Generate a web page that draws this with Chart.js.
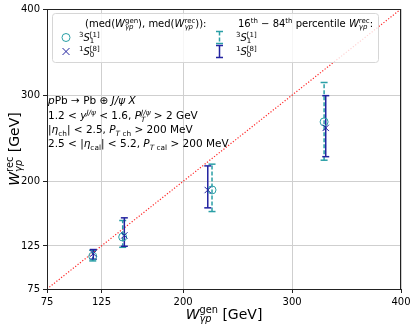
<!DOCTYPE html>
<html>
<head>
<meta charset="utf-8">
<script src="https://cdn.jsdelivr.net/npm/chart.js@4.4.1/dist/chart.umd.min.js"></script>
<style>
  body { margin: 0; background: #fff; }
  canvas { display: block; }
</style>
</head>
<body>
<canvas id="chart" width="416" height="327" style="width:416px;height:327px"></canvas>
<script>
const xTicks = [75, 125, 200, 300, 400];
const yTicks = [75, 125, 200, 300, 400];
const diagX = [75, 400];
const diagY = [75, 400];

// 3S1[1]: medians and 16-84 percentile band of W_rec
const s1Gen = [117, 144.5, 226.5, 329.4];
const s1Rec = [113, 135.3, 190, 269];
const s1Lo = [107.6, 123.4, 164.9, 224.5];
const s1Hi = [120, 154.5, 219.9, 314.7];

// 1S0[8]
const s0Gen = [117.5, 146, 222.6, 330.9];
const s0Rec = [116.1, 137.2, 189.9, 262];
const s0Lo = [109.6, 124.6, 169.2, 228.6];
const s0Hi = [120.8, 157.6, 217.9, 299.4];

const teal = '#2a9fa6';
const navy = '#2323a0';
const FONT = '"DejaVu Sans"';

function bars(xs, lo, hi) {
  return xs.flatMap((x, i) => [{x: x, y: lo[i]}, {x: x, y: hi[i]}, {x: x, y: null}]);
}

// draw text with super/subscripts; s.p: 'u' sup, 'd' sub; s.k: stack next seg on top
function rich(ctx, segs, x, y, size, align) {
  let cx = 0, stack = null;
  const ops = [];
  for (const s of segs) {
    const sz = s.p ? size * 0.7 : size;
    const font = (s.i ? 'italic ' : '') + sz + 'px ' + FONT;
    ctx.font = font;
    const w = ctx.measureText(s.t).width;
    const dy = s.p === 'u' ? -size * 0.42 : s.p === 'd' ? size * 0.24 : 0;
    if (stack) {
      ops.push({font, t: s.t, x: stack.x, dy});
      cx = stack.x + Math.max(stack.w, w);
      stack = null;
    } else {
      ops.push({font, t: s.t, x: cx, dy});
      if (s.k) stack = {x: cx, w: w}; else cx += w;
    }
  }
  const off = align === 'center' ? -cx / 2 : 0;
  ctx.textAlign = 'left';
  ctx.textBaseline = 'alphabetic';
  ops.forEach(o => { ctx.font = o.font; ctx.fillText(o.t, x + off + o.x, y + o.dy); });
  return cx;
}

const extras = {
  id: 'extras',
  afterDraw(chart) {
    const ctx = chart.ctx;
    const a = chart.chartArea;
    ctx.save();
    // frame
    ctx.strokeStyle = '#222';
    ctx.lineWidth = 1;
    ctx.strokeRect(a.left + 0.5, a.top + 0.5, a.right - a.left - 1, a.bottom - a.top);

    // legend box
    const lx = 52, ly = 13, lw = 326, lh = 49;
    ctx.beginPath();
    ctx.roundRect(lx + 0.5, ly + 0.5, lw, lh, 3);
    ctx.fillStyle = 'rgba(255,255,255,0.8)';
    ctx.fill();
    ctx.strokeStyle = '#d6d6d6';
    ctx.stroke();

    ctx.fillStyle = '#000';
    rich(ctx, [
      {t: '(med('}, {t: 'W', i: 1}, {t: 'gen', p: 'u', k: 1}, {t: 'γp', p: 'd', i: 1},
      {t: '), med('}, {t: 'W', i: 1}, {t: 'rec', p: 'u', k: 1}, {t: 'γp', p: 'd', i: 1},
      {t: ')):'}
    ], 85, 27, 10);
    rich(ctx, [
      {t: '16'}, {t: 'th', p: 'u'}, {t: ' − 84'}, {t: 'th', p: 'u'}, {t: ' percentile '},
      {t: 'W', i: 1}, {t: 'rec', p: 'u', k: 1}, {t: 'γp', p: 'd', i: 1}, {t: ':'}
    ], 238, 27, 10);
    const lab1 = [{t: '3', p: 'u'}, {t: 'S', i: 1}, {t: '[1]', p: 'u', k: 1}, {t: '1', p: 'd'}];
    const lab0 = [{t: '1', p: 'u'}, {t: 'S', i: 1}, {t: '[8]', p: 'u', k: 1}, {t: '0', p: 'd'}];
    rich(ctx, lab1, 79, 41, 10);
    rich(ctx, lab0, 79, 55, 10);
    rich(ctx, lab1, 236, 41, 10);
    rich(ctx, lab0, 236, 55, 10);

    // legend markers
    ctx.lineWidth = 1;
    ctx.strokeStyle = teal;
    ctx.beginPath();
    ctx.arc(66, 37.5, 4, 0, Math.PI * 2);
    ctx.stroke();
    ctx.strokeStyle = navy;
    ctx.beginPath();
    ctx.moveTo(62.5, 48); ctx.lineTo(69.5, 55);
    ctx.moveTo(69.5, 48); ctx.lineTo(62.5, 55);
    ctx.stroke();
    function ebar(x, y, col, dash) {
      ctx.strokeStyle = col;
      ctx.lineWidth = 1.5;
      ctx.setLineDash(dash);
      ctx.beginPath(); ctx.moveTo(x, y - 6); ctx.lineTo(x, y + 6); ctx.stroke();
      ctx.setLineDash([]);
      ctx.beginPath();
      ctx.moveTo(x - 3.5, y - 6); ctx.lineTo(x + 3.5, y - 6);
      ctx.moveTo(x - 3.5, y + 6); ctx.lineTo(x + 3.5, y + 6);
      ctx.stroke();
    }
    ebar(219.5, 37.5, teal, [4, 2]);
    ebar(219.5, 51.5, navy, []);

    // annotation
    ctx.fillStyle = '#000';
    const fs = 10.5;
    rich(ctx, [{t: 'p', i: 1}, {t: 'Pb → Pb ⊕ '}, {t: 'J/ψ X', i: 1}], 48, 104, fs);
    rich(ctx, [{t: '1.2 < '}, {t: 'y', i: 1}, {t: 'J/ψ', p: 'u', i: 1}, {t: ' < 1.6, '},
      {t: 'P', i: 1}, {t: 'J/ψ', p: 'u', i: 1, k: 1}, {t: 'T', p: 'd', i: 1}, {t: ' > 2 GeV'}], 48, 119, fs);
    rich(ctx, [{t: '|'}, {t: 'η', i: 1}, {t: 'ch', p: 'd'}, {t: '| < 2.5, '},
      {t: 'P', i: 1}, {t: 'T', p: 'd', i: 1}, {t: ' ch', p: 'd'}, {t: ' > 200 MeV'}], 48, 133, fs);
    rich(ctx, [{t: '2.5 < |'}, {t: 'η', i: 1}, {t: 'cal', p: 'd'}, {t: '| < 5.2, '},
      {t: 'P', i: 1}, {t: 'T', p: 'd', i: 1}, {t: ' cal', p: 'd'}, {t: ' > 200 MeV'}], 48, 147, fs);

    // axis titles
    const cxm = (a.left + a.right) / 2;
    rich(ctx, [{t: 'W', i: 1}, {t: 'gen', p: 'u', k: 1}, {t: 'γp', p: 'd', i: 1}, {t: ' [GeV]'}], cxm, 319, 14, 'center');
    ctx.translate(19, (a.top + a.bottom) / 2);
    ctx.rotate(-Math.PI / 2);
    rich(ctx, [{t: 'W', i: 1}, {t: 'rec', p: 'u', k: 1}, {t: 'γp', p: 'd', i: 1}, {t: ' [GeV]'}], 0, 0, 14, 'center');
    ctx.restore();
  }
};

function axis(ticks, fit) {
  return {
    type: 'linear',
    min: ticks[0],
    max: ticks[ticks.length - 1],
    afterBuildTicks: s => { s.ticks = ticks.map(v => ({value: v})); },
    afterFit: fit,
    ticks: {
      autoSkip: false, maxRotation: 0, padding: 3, color: '#000',
      font: {family: 'DejaVu Sans', size: 10}
    },
    grid: {color: '#cfcfcf', tickColor: '#222', tickLength: 4, lineWidth: 1},
    border: {color: '#222', width: 1}
  };
}

new Chart(document.getElementById('chart'), {
  type: 'scatter',
  data: {
    datasets: [
      {
        data: s0Gen.map((x, i) => ({x: x, y: s0Rec[i]})),
        pointStyle: 'crossRot', pointRadius: 4.5, borderColor: navy, borderWidth: 1,
        backgroundColor: navy, order: 0
      },
      {
        data: s1Gen.map((x, i) => ({x: x, y: s1Rec[i]})),
        pointStyle: 'circle', pointRadius: 4, borderColor: teal, borderWidth: 1,
        backgroundColor: 'rgba(0,0,0,0)', order: 1
      },
      {
        data: bars(s0Gen, s0Lo, s0Hi), showLine: true, borderColor: navy, borderWidth: 1.5,
        pointStyle: 'line', pointRadius: 3.5, pointBorderColor: navy, pointBorderWidth: 1.5, order: 2
      },
      {
        data: bars(s1Gen, s1Lo, s1Hi), showLine: true, borderColor: teal, borderWidth: 1.5,
        borderDash: [4, 2],
        pointStyle: 'line', pointRadius: 3.5, pointBorderColor: teal, pointBorderWidth: 1.5, order: 3
      },
      {
        data: diagX.map((x, i) => ({x: x, y: diagY[i]})), showLine: true,
        borderColor: 'rgba(255,0,0,0.85)', borderWidth: 1.2, borderDash: [1.2, 1.8],
        pointRadius: 0, order: 4
      }
    ]
  },
  options: {
    responsive: false,
    animation: false,
    devicePixelRatio: 1,
    events: [],
    layout: {padding: {top: 7, right: 15, left: 0, bottom: 0}},
    plugins: {legend: {display: false}, tooltip: {enabled: false}},
    scales: {
      x: axis(xTicks, s => { s.height = 38; }),
      y: axis(yTicks, s => { s.width = 47; })
    }
  },
  plugins: [extras]
});
</script>
</body>
</html>
